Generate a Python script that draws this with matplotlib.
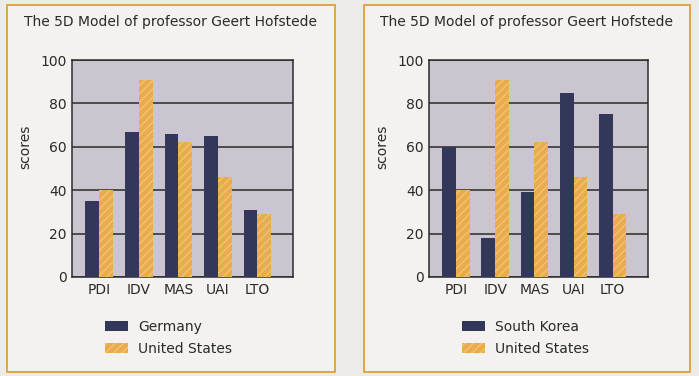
import matplotlib
matplotlib.use("Agg")
import matplotlib.pyplot as plt
from matplotlib.patches import Rectangle, Patch
import numpy as np

categories = ["PDI", "IDV", "MAS", "UAI", "LTO"]
germany = [35, 67, 66, 65, 31]
united_states = [40, 91, 62, 46, 29]
south_korea = [60, 18, 39, 85, 75]
title = "The 5D Model of professor Geert Hofstede"
yticks = [0, 20, 40, 60, 80, 100]

W, H = 699, 376
fig = plt.figure(figsize=(W / 100, H / 100), dpi=100)
fig.patch.set_facecolor("#ecebe8")

NAVY = "#33375a"
ORANGE = "#e9ab4c"
PLOTBG = "#cac5cf"
BORDER = "#e3a542"

def fx(px):
    return px / W

def fy(py):
    return 1 - py / H

def panel(box, ax_box, other, other_label, label_x, legend_x):
    x0, y0, x1, y1 = box
    fig.patches.append(Rectangle((fx(x0), fy(y1)), fx(x1 - x0), (y1 - y0) / H,
                                 transform=fig.transFigure, facecolor="#f3f2ef",
                                 edgecolor=BORDER, lw=1.4, zorder=-5))
    fig.text(fx((x0 + x1) / 2), fy(22), title, ha="center", va="center",
             fontsize=10, color="#2a2a2a")
    ax0, ay0, ax1, ay1 = ax_box
    ax = fig.add_axes([fx(ax0), fy(ay1), fx(ax1 - ax0), (ay1 - ay0) / H])
    ax.set_zorder(2)
    ax.set_facecolor(PLOTBG)
    x = np.arange(len(categories))
    w = 0.35
    ax.bar(x - w / 2, other, w, color=NAVY, label=other_label, zorder=3)
    ax.bar(x + w / 2, united_states, w, color=ORANGE, label="United States",
           zorder=3, hatch="////", edgecolor="#f0c27a", linewidth=0)
    ax.set_xlim(-0.69, 4.9)
    ax.set_ylim(0, 100)
    ax.set_yticks(yticks)
    ax.set_xticks(x)
    ax.set_xticklabels(categories)
    ax.tick_params(length=0, labelsize=10, colors="#2a2a2a", pad=4)
    ax.yaxis.grid(True, color="#2b2b2b", lw=1.1)
    ax.set_axisbelow(True)
    for s in ax.spines.values():
        s.set_color("#2b2b2b")
        s.set_linewidth(1.1)
    fig.text(fx(label_x), fy(147), "scores", rotation=90, ha="center",
             va="center", fontsize=10, color="#2a2a2a")
    handles = [Patch(facecolor=NAVY, label=other_label),
               Patch(facecolor=ORANGE, hatch="////", edgecolor="#f0c27a",
                     linewidth=0, label="United States")]
    fig.legend(handles=handles, loc="upper left",
               bbox_to_anchor=(fx(legend_x), fy(320)), frameon=False,
               fontsize=10, handlelength=1.65, handleheight=0.8,
               handletextpad=0.72, labelspacing=0.55, borderpad=0,
               borderaxespad=0, labelcolor="#2a2a2a")
    return ax

panel((7, 5, 335, 372), (72, 60, 293, 277), germany, "Germany", 25, 105)
panel((364, 5, 690, 372), (429, 60, 648, 277), south_korea, "South Korea", 382, 462)

fig.savefig("out.png", dpi=100, facecolor=fig.get_facecolor())
